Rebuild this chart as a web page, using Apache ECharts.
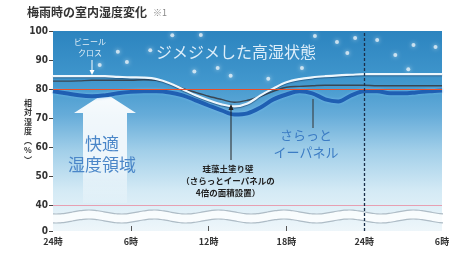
<!DOCTYPE html>
<html>
<head>
<meta charset="utf-8">
<script src="https://cdn.jsdelivr.net/npm/echarts@6/dist/echarts.min.js"></script>
<style>
html,body{margin:0;padding:0;background:#fff}
#chart{width:458px;height:254px}
</style>
</head>
<body>
<div id="chart"></div>
<script>
// 経過時間（0 = 24時）
var hours = [0,1,2,3,4,5,6,7,8,9,10,11,12,13,14,15,16,17,18,19,20,21,22,23,24,25,26,27,28,29,30];
// ビニールクロス
var vinylCloth = [84.4,84.4,84.4,84.4,84.4,84.2,84.0,83.9,83.4,82.0,79.9,77.8,76.1,74.7,74.0,75.0,77.8,80.2,82.3,83.4,84.0,84.4,84.7,84.9,85.1,85.1,85.1,85.1,85.1,85.1,85.1];
// 珪藻土塗り壁
var diatomWall = [82.7,82.7,82.8,83.0,83.0,83.0,83.0,83.2,83.0,82.0,80.2,78.8,77.5,76.4,75.4,76.1,77.5,79.2,80.6,80.9,81.1,81.3,81.3,81.3,81.3,81.1,81.1,81.1,81.1,81.1,81.1];
// さらっとイーパネル
var sarattoPanel = [79.2,78.5,77.8,77.5,77.8,78.5,79.0,79.2,79.2,78.8,77.8,76.1,74.3,72.6,71.2,71.6,73.6,76.4,78.1,79.2,78.5,76.4,75.7,77.8,79.2,79.2,78.5,78.5,78.8,79.2,79.5];
var xTicks = [0,6,12,18,24,30];
var yTicks = [31,40,50,60,70,80,90,100];
var comfortLine = 80;
var breakLine = 40;
var dayLine = 24;
// 背景の水滴
var bubbles = [[3.6,88.3],[5.0,92.8],[5.7,89.3],[7.5,93.4],[9.2,98.5],[11.4,98.6],[10.9,86.0],[12.7,87.2],[13.7,84.6],[16.6,83.5],[19.2,87.2],[20.2,98.3],[21.9,96.2],[23.3,97.6],[22.7,92.4],[25.0,96.9],[26.4,91.7],[27.8,95.2],[29.5,94.5],[27.4,86.8]];

function pairs(vals){ return hours.map(function(h,i){ return [h, vals[i]]; }); }

var chart = echarts.init(document.getElementById('chart'));
var font = '"Noto Sans CJK JP", sans-serif';

// 波線（省略記号）
function wave(y0){
  var pts = [];
  for (var x = 53; x <= 443; x += 3) pts.push([x, y0 + 2 * Math.sin((x - 40) / 65 * 2 * Math.PI)]);
  return pts;
}
var w1 = wave(212), w2 = wave(221);
var band = w1.concat(w2.slice().reverse());

chart.setOption({
  animation: false,
  textStyle: { fontFamily: font },
  grid: {
    left: 53, right: 16, top: 31, bottom: 23,
    show: true, borderWidth: 0,
    backgroundColor: {
      type: 'linear', x: 0, y: 0, x2: 0, y2: 1,
      colorStops: [
        { offset: 0, color: '#2c84bf' },
        { offset: 0.25, color: '#4197cd' },
        { offset: 0.42, color: '#66acd9' },
        { offset: 0.6, color: '#a2cfe9' },
        { offset: 0.8, color: '#d4eaf5' },
        { offset: 1, color: '#eef6fa' }
      ]
    }
  },
  xAxis: {
    type: 'value', min: 0, max: 30,
    axisLine: { show: false },
    splitLine: { show: false },
    axisTick: { show: true, inside: true, length: 5, customValues: [6,12,18], lineStyle: { color: '#555' } },
    axisLabel: {
      customValues: xTicks, margin: 6,
      color: '#333', fontSize: 9, fontWeight: 'bold', fontFamily: font,
      formatter: function(v){ var h = v % 24; return (h === 0 ? 24 : h) + '時'; }
    }
  },
  yAxis: {
    type: 'value', min: 31, max: 100,
    axisLine: { show: false },
    splitLine: { show: false },
    axisTick: { show: true, length: 4, customValues: yTicks, lineStyle: { color: '#444' } },
    axisLabel: {
      customValues: yTicks, margin: 5,
      color: '#333', fontSize: 10, fontWeight: 'bold', fontFamily: 'DejaVu Sans Condensed, sans-serif',
      formatter: function(v){ return v === 31 ? '0' : String(v); }
    }
  },
  graphic: [
    { type: 'polygon', z: 1, shape: { points: band }, style: { fill: 'rgba(255,255,255,0.75)' } },
    { type: 'polyline', z: 2, shape: { points: w1, smooth: 0.3 }, style: { stroke: '#aebcc6', lineWidth: 1.2, fill: null } },
    { type: 'polyline', z: 2, shape: { points: w2, smooth: 0.3 }, style: { stroke: '#aebcc6', lineWidth: 1.2, fill: null } },
    { type: 'polygon', z: 1,
      shape: { points: [[105,93],[136,113],[127,113],[127,203],[83,203],[83,113],[74,113]] },
      style: { fill: { type: 'linear', x: 0, y: 0, x2: 0, y2: 1, colorStops: [
        { offset: 0, color: 'rgba(255,255,255,0.97)' },
        { offset: 0.6, color: 'rgba(255,255,255,0.8)' },
        { offset: 1, color: 'rgba(255,255,255,0.15)' } ] } } },
    { type: 'text', z: 10, left: 27, top: 6, style: { text: '梅雨時の室内湿度変化', font: 'bold 12px ' + font, fill: '#333' } },
    { type: 'text', z: 10, left: 153, top: 8, style: { text: '※1', font: '9px ' + font, fill: '#888' } },
    { type: 'text', z: 10, left: 24, top: 98, style: { text: '相\n対\n湿\n度\n︵\n%\n︶', font: 'bold 8px ' + font, fill: '#333', lineHeight: 9.5 } },
    { type: 'text', z: 10, x: 236, y: 52, style: { text: 'ジメジメした高湿状態', font: '16px ' + font, fill: 'rgba(240,248,255,0.9)', align: 'center', verticalAlign: 'middle' } },
    { type: 'text', z: 10, x: 90, y: 47, style: { text: 'ビニール\nクロス', font: '8px ' + font, fill: 'rgba(255,255,255,0.85)', align: 'center', verticalAlign: 'middle', lineHeight: 11 } },
    { type: 'line', z: 10, shape: { x1: 92, y1: 60, x2: 92, y2: 73 }, style: { stroke: '#fff', lineWidth: 1 } },
    { type: 'polygon', z: 10, shape: { points: [[89.5,70],[94.5,70],[92,75]] }, style: { fill: '#fff' } },
    { type: 'text', z: 10, x: 102, y: 154, style: { text: '快適\n湿度領域', font: '17px ' + font, fill: '#4a86c8', align: 'center', verticalAlign: 'middle', lineHeight: 21 } },
    { type: 'text', z: 10, x: 306, y: 144, style: { text: 'さらっと\nイーパネル', font: '13px ' + font, fill: '#3c7cc4', align: 'center', verticalAlign: 'middle', lineHeight: 17 } },
    { type: 'line', z: 10, shape: { x1: 313, y1: 128, x2: 313, y2: 99 }, style: { stroke: '#333', lineWidth: 1 } },
    { type: 'text', z: 10, x: 228, y: 181, style: { text: '珪藻土塗り壁\n（さらっとイーパネルの\n4倍の面積設置）', font: 'bold 8.5px ' + font, fill: '#222', align: 'center', verticalAlign: 'middle', lineHeight: 12 } },
    { type: 'line', z: 10, shape: { x1: 231, y1: 160, x2: 231, y2: 107 }, style: { stroke: '#222', lineWidth: 1 } },
    { type: 'polygon', z: 10, shape: { points: [[228.5,110],[233.5,110],[231,104]] }, style: { fill: '#222' } }
  ],
  series: [
    {
      name: '水滴', type: 'scatter', z: 1, symbolSize: 4,
      data: bubbles, silent: true,
      itemStyle: { color: 'rgba(255,255,255,0.85)', shadowBlur: 4, shadowColor: 'rgba(255,255,255,0.9)' }
    },
    {
      name: 'さらっとイーパネル', type: 'line', z: 3, smooth: 0.35, showSymbol: false,
      data: pairs(sarattoPanel),
      lineStyle: { color: '#1f5fb2', width: 4, shadowBlur: 3, shadowColor: 'rgba(120,190,240,0.9)' }
    },
    {
      name: '珪藻土塗り壁', type: 'line', z: 4, smooth: 0.35, showSymbol: false,
      data: pairs(diatomWall),
      lineStyle: { color: '#3a4652', width: 1.4 }
    },
    {
      name: 'ビニールクロス', type: 'line', z: 4, smooth: 0.35, showSymbol: false,
      data: pairs(vinylCloth),
      lineStyle: { color: '#eef7fd', width: 2.2, shadowBlur: 1, shadowOffsetY: 1, shadowColor: 'rgba(20,60,100,0.6)' }
    },
    {
      name: '基準線', type: 'line', z: 5, data: [], showSymbol: false,
      markLine: {
        silent: true, symbol: 'none', label: { show: false },
        data: [
          { yAxis: comfortLine, lineStyle: { color: '#e8502a', width: 1.2, type: 'solid' } },
          { yAxis: breakLine, lineStyle: { color: 'rgba(232,150,170,0.9)', width: 1, type: 'solid' } },
          { xAxis: dayLine, lineStyle: { color: '#1b2f4a', width: 1.3, type: [3, 2] } }
        ]
      }
    }
  ]
});
</script>
</body>
</html>
